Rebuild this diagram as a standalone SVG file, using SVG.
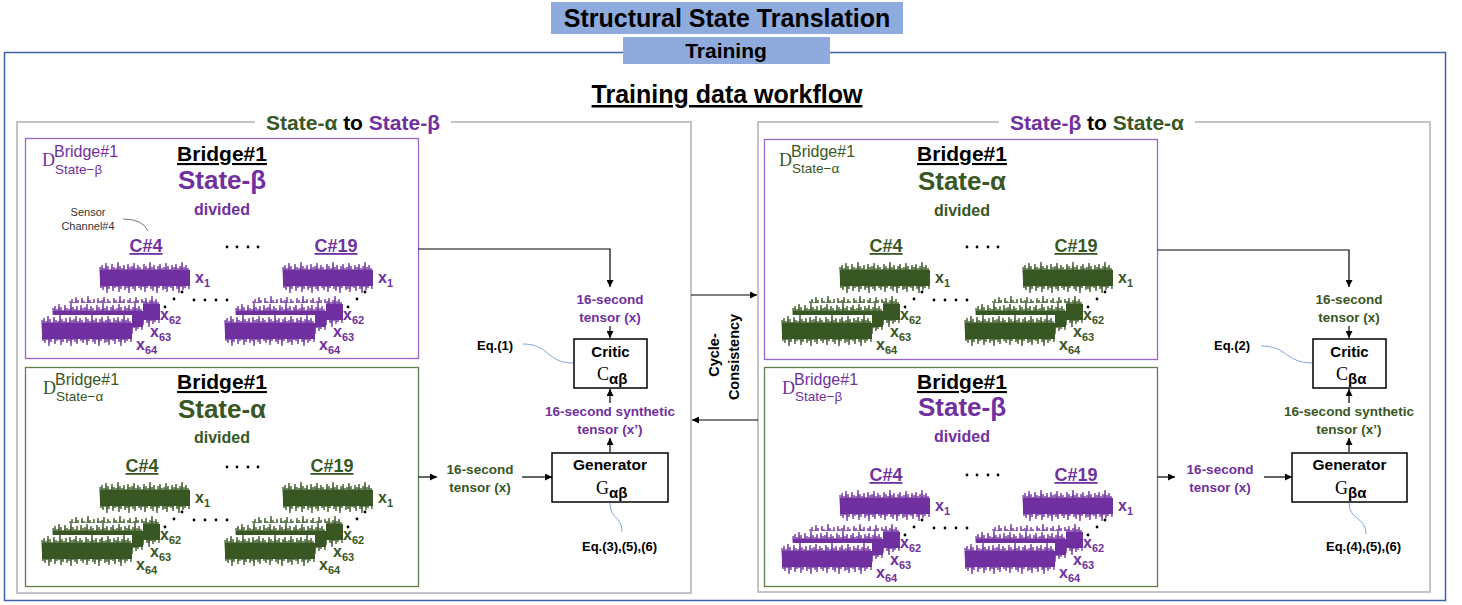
<svg xmlns="http://www.w3.org/2000/svg" width="1462" height="605" viewBox="0 0 1462 605">
<style>
text{font-family:"Liberation Sans",Arial,sans-serif}
.b{font-weight:bold}
.m{text-anchor:middle}
.p{fill:#7030A0}
.g{fill:#385723}
.k{fill:#000}
.sv{font-family:"Liberation Serif","Times New Roman",serif;font-weight:normal}
.hdr{font-size:21px;font-weight:bold;text-decoration:underline}
.st{font-size:26px;font-weight:bold}
.dv{font-size:16px;font-weight:bold}
.ch{font-size:18px;font-weight:bold;text-decoration:underline}
.xl{font-size:16px;font-weight:bold}
.lbl{font-size:13.5px;font-weight:bold}
.eq{font-size:13px;font-weight:bold}
.box{fill:#fff;stroke:#000;stroke-width:1.5}
.pp{fill:#fff;stroke:#9966CC;stroke-width:1.3}
.gp{fill:#fff;stroke:#5E7F4A;stroke-width:1.3}
.grp{fill:#fff;stroke:#C4C4C4;stroke-width:2}
.con{fill:none;stroke:#000;stroke-width:1.2}
.blue{fill:none;stroke:#7FA6DA;stroke-width:1}
</style>
<defs>
<marker id="ah" markerWidth="7" markerHeight="7" refX="7" refY="3.5" orient="auto" markerUnits="userSpaceOnUse">
<path d="M0,0 L7,3.5 L0,7 z" fill="#000"/>
</marker>
<g id="wave">
<rect x="0" y="0" width="90" height="32" fill="#fff"/>
<rect x="0" y="8" width="90" height="16" fill="currentColor"/>
<polyline fill="none" stroke="currentColor" stroke-width="1.3" points="0,5 1,26 2,3 3,28 4,6 5,25 6,1 7,31 8,4 9,27 10,7 11,24 12,2 13,29 14,5 15,26 16,6 17,25 18,0 19,30 20,4 21,27 22,6 23,24 24,3 25,28 26,7 27,26 28,2 29,31 30,5 31,25 32,4 33,27 34,1 35,29 36,6 37,24 38,3 39,26 40,5 41,28 42,7 43,25 44,2 45,30 46,4 47,26 48,6 49,24 50,0 51,27 52,5 53,29 54,3 55,25 56,7 57,31 58,4 59,26 60,2 61,24 62,6 63,28 64,5 65,27 66,1 67,30 68,4 69,25 70,7 71,26 72,3 73,29 74,5 75,24 76,2 77,27 78,6 79,31 80,4 81,25 82,0 83,28 84,5 85,26 86,3 87,24 88,6 89,27"/>
</g>
<g id="chan">
<use href="#wave" x="-30" y="34"/>
<use href="#wave" x="-47" y="41"/>
<use href="#wave" x="-58" y="53"/>
<use href="#wave" x="0" y="0"/>
<circle cx="82" cy="30" r="1.4" fill="#000"/>
<circle cx="74" cy="37" r="1.4" fill="#000"/>
<circle cx="65" cy="45" r="1.4" fill="#000"/>
</g>
<g id="hdots">
<circle cx="194" cy="300" r="1.4"/><circle cx="205" cy="300" r="1.4"/><circle cx="216" cy="300" r="1.4"/><circle cx="227" cy="300" r="1.4"/>
<circle cx="227" cy="247" r="1.4"/><circle cx="237" cy="247" r="1.4"/><circle cx="248" cy="247" r="1.4"/><circle cx="258" cy="247" r="1.4"/>
</g>
</defs>

<rect width="1462" height="605" fill="#fff"/>

<g id="frame">
<rect x="4.5" y="52.5" width="1441" height="548" fill="none" stroke="#3D62A8" stroke-width="1.5"/>
</g>
<g id="title">
<rect x="551" y="2" width="352" height="32" fill="#8FAADC"/>
<text x="727" y="27" class="b m" font-size="25">Structural State Translation</text>
</g>
<g id="training">
<rect x="623" y="37" width="207" height="27" fill="#8FAADC"/>
<text x="726" y="58" class="b m" font-size="21">Training</text>
</g>
<g id="workflow-title">
<text x="727" y="103" class="b m" font-size="25" text-decoration="underline">Training data workflow</text>
</g>

<g id="group-left">
<rect class="grp" x="17" y="122" width="674" height="471"/>
<rect x="255" y="112" width="196" height="22" fill="#fff"/>
<text x="353" y="130" class="b m" font-size="21"><tspan class="g">State-α</tspan> to <tspan class="p">State-β</tspan></text>
</g>
<g id="group-right">
<rect class="grp" x="758" y="122" width="672" height="470"/>
<rect x="999" y="112" width="196" height="22" fill="#fff"/>
<text x="1097" y="130" class="b m" font-size="21"><tspan class="p">State-β</tspan> to <tspan class="g">State-α</tspan></text>
</g>

<!-- Left top panel: State-beta -->
<g id="panel-lt">
<rect class="pp" x="25.5" y="138.5" width="393" height="220"/>
<text x="42" y="166" class="p"><tspan class="sv" font-size="18">D</tspan></text>
<text x="54" y="157" class="p" font-size="16">Bridge#1</text>
<text x="55" y="174" class="p" font-size="13.5">State−β</text>
<text x="222" y="161" class="hdr m">Bridge#1</text>
<text x="222" y="189" class="st m p">State-β</text>
<text x="222" y="215" class="dv m p">divided</text>
<text x="88" y="216" class="m" font-size="11" fill="#333">Sensor</text>
<text x="88" y="230" class="m" font-size="11" fill="#333">Channel#4</text>
<path d="M123,219 Q143,219 148,231" fill="none" stroke="#555" stroke-width="0.8"/>
<text x="146" y="252" class="ch m p">C#4</text>
<text x="336" y="252" class="ch m p">C#19</text>
<use href="#chan" x="100" y="262" color="#7030A0"/>
<use href="#chan" x="283" y="262" color="#7030A0"/>
<use href="#hdots" fill="#000"/>
<text x="195" y="283" class="xl p">x<tspan font-size="11" dy="4">1</tspan></text>
<text x="160" y="320" class="xl p">x<tspan font-size="11" dy="4">62</tspan></text>
<text x="150" y="337" class="xl p">x<tspan font-size="11" dy="4">63</tspan></text>
<text x="136" y="350" class="xl p">x<tspan font-size="11" dy="4">64</tspan></text>
<text x="378" y="283" class="xl p">x<tspan font-size="11" dy="4">1</tspan></text>
<text x="343" y="320" class="xl p">x<tspan font-size="11" dy="4">62</tspan></text>
<text x="333" y="337" class="xl p">x<tspan font-size="11" dy="4">63</tspan></text>
<text x="319" y="350" class="xl p">x<tspan font-size="11" dy="4">64</tspan></text>
</g>

<!-- Left bottom panel: State-alpha -->
<g id="panel-lb">
<rect class="gp" x="25.5" y="367.5" width="393" height="219"/>
<text x="43" y="394" class="g"><tspan class="sv" font-size="18">D</tspan></text>
<text x="55" y="385" class="g" font-size="16">Bridge#1</text>
<text x="56" y="401" class="g" font-size="13.5">State−α</text>
<text x="222" y="389" class="hdr m">Bridge#1</text>
<text x="222" y="418" class="st m g">State-α</text>
<text x="222" y="443" class="dv m g">divided</text>
<text x="142" y="472" class="ch m g">C#4</text>
<text x="332" y="472" class="ch m g">C#19</text>
<use href="#chan" x="100" y="482" color="#385723"/>
<use href="#chan" x="283" y="482" color="#385723"/>
<use href="#hdots" y="220" fill="#000"/>
<text x="195" y="503" class="xl g">x<tspan font-size="11" dy="4">1</tspan></text>
<text x="160" y="540" class="xl g">x<tspan font-size="11" dy="4">62</tspan></text>
<text x="150" y="557" class="xl g">x<tspan font-size="11" dy="4">63</tspan></text>
<text x="136" y="570" class="xl g">x<tspan font-size="11" dy="4">64</tspan></text>
<text x="378" y="503" class="xl g">x<tspan font-size="11" dy="4">1</tspan></text>
<text x="343" y="540" class="xl g">x<tspan font-size="11" dy="4">62</tspan></text>
<text x="333" y="557" class="xl g">x<tspan font-size="11" dy="4">63</tspan></text>
<text x="319" y="570" class="xl g">x<tspan font-size="11" dy="4">64</tspan></text>
</g>

<!-- Right top panel: State-alpha -->
<g id="panel-rt">
<rect class="pp" x="764.5" y="139.5" width="393" height="220"/>
<text x="779" y="166" class="g"><tspan class="sv" font-size="18">D</tspan></text>
<text x="791" y="157" class="g" font-size="16">Bridge#1</text>
<text x="792" y="173" class="g" font-size="13.5">State−α</text>
<text x="962" y="161" class="hdr m">Bridge#1</text>
<text x="962" y="190" class="st m g">State-α</text>
<text x="962" y="216" class="dv m g">divided</text>
<text x="886" y="252" class="ch m g">C#4</text>
<text x="1076" y="252" class="ch m g">C#19</text>
<use href="#chan" x="840" y="262" color="#385723"/>
<use href="#chan" x="1023" y="262" color="#385723"/>
<use href="#hdots" x="740" fill="#000"/>
<text x="935" y="283" class="xl g">x<tspan font-size="11" dy="4">1</tspan></text>
<text x="900" y="320" class="xl g">x<tspan font-size="11" dy="4">62</tspan></text>
<text x="890" y="337" class="xl g">x<tspan font-size="11" dy="4">63</tspan></text>
<text x="876" y="350" class="xl g">x<tspan font-size="11" dy="4">64</tspan></text>
<text x="1118" y="283" class="xl g">x<tspan font-size="11" dy="4">1</tspan></text>
<text x="1083" y="320" class="xl g">x<tspan font-size="11" dy="4">62</tspan></text>
<text x="1073" y="337" class="xl g">x<tspan font-size="11" dy="4">63</tspan></text>
<text x="1059" y="350" class="xl g">x<tspan font-size="11" dy="4">64</tspan></text>
</g>

<!-- Right bottom panel: State-beta -->
<g id="panel-rb">
<rect class="gp" x="764.5" y="367.5" width="393" height="219"/>
<text x="782" y="394" class="p"><tspan class="sv" font-size="18">D</tspan></text>
<text x="794" y="385" class="p" font-size="16">Bridge#1</text>
<text x="795" y="401" class="p" font-size="13.5">State−β</text>
<text x="962" y="389" class="hdr m">Bridge#1</text>
<text x="962" y="416" class="st m p">State-β</text>
<text x="962" y="442" class="dv m p">divided</text>
<text x="886" y="481" class="ch m p">C#4</text>
<text x="1076" y="481" class="ch m p">C#19</text>
<use href="#chan" x="840" y="490" color="#7030A0"/>
<use href="#chan" x="1023" y="490" color="#7030A0"/>
<use href="#hdots" x="740" y="228" fill="#000"/>
<text x="935" y="511" class="xl p">x<tspan font-size="11" dy="4">1</tspan></text>
<text x="900" y="548" class="xl p">x<tspan font-size="11" dy="4">62</tspan></text>
<text x="890" y="565" class="xl p">x<tspan font-size="11" dy="4">63</tspan></text>
<text x="876" y="578" class="xl p">x<tspan font-size="11" dy="4">64</tspan></text>
<text x="1118" y="511" class="xl p">x<tspan font-size="11" dy="4">1</tspan></text>
<text x="1083" y="548" class="xl p">x<tspan font-size="11" dy="4">62</tspan></text>
<text x="1073" y="565" class="xl p">x<tspan font-size="11" dy="4">63</tspan></text>
<text x="1059" y="578" class="xl p">x<tspan font-size="11" dy="4">64</tspan></text>
</g>

<!-- Connectors -->
<g id="connectors">
<path class="con" d="M418.5,249 H610 V287" marker-end="url(#ah)"/>
<path class="con" d="M610,326 V338" marker-end="url(#ah)"/>
<path class="con" d="M610,452 V438" marker-end="url(#ah)"/>
<path class="con" d="M610,403 V389" marker-end="url(#ah)"/>
<path class="con" d="M418.5,477 H437" marker-end="url(#ah)"/>
<path class="con" d="M522,477 H552" marker-end="url(#ah)"/>
<path class="con" d="M691,295 H757" marker-end="url(#ah)"/>
<path class="con" d="M758,420 H692" marker-end="url(#ah)"/>
<path class="con" d="M1157.5,250 H1349 V287" marker-end="url(#ah)"/>
<path class="con" d="M1349,326 V338" marker-end="url(#ah)"/>
<path class="con" d="M1349,452 V438" marker-end="url(#ah)"/>
<path class="con" d="M1349,403 V389" marker-end="url(#ah)"/>
<path class="con" d="M1157.5,477 H1175" marker-end="url(#ah)"/>
<path class="con" d="M1264,477 H1292" marker-end="url(#ah)"/>
<path class="blue" d="M523,344 C550,344 546,363 573,363"/>
<path class="blue" d="M610,503 C610,520 622,515 622,532"/>
<path class="blue" d="M1261,346 C1288,346 1285,363 1313,363"/>
<path class="blue" d="M1349,503 C1349,520 1366,517 1366,534"/>
</g>

<g id="labels-left">
<text x="610" y="304" class="lbl m p">16-second</text>
<text x="610" y="322" class="lbl m p">tensor (x)</text>
<text x="610" y="416" class="lbl m p">16-second synthetic</text>
<text x="610" y="434" class="lbl m p">tensor (x’)</text>
<text x="480" y="474" class="lbl m g">16-second</text>
<text x="480" y="492" class="lbl m g">tensor (x)</text>
<text x="477" y="350" class="eq">Eq.(1)</text>
<text x="582" y="551" class="eq">Eq.(3),(5),(6)</text>
</g>
<g id="labels-right">
<text x="1349" y="304" class="lbl m g">16-second</text>
<text x="1349" y="322" class="lbl m g">tensor (x)</text>
<text x="1349" y="416" class="lbl m g">16-second synthetic</text>
<text x="1349" y="434" class="lbl m g">tensor (x’)</text>
<text x="1220" y="474" class="lbl m p">16-second</text>
<text x="1220" y="492" class="lbl m p">tensor (x)</text>
<text x="1214" y="350" class="eq">Eq.(2)</text>
<text x="1326" y="551" class="eq">Eq.(4),(5),(6)</text>
</g>

<g id="cycle-consistency">
<text transform="translate(719,355) rotate(-90)" class="b m" font-size="14.5">Cycle-</text>
<text transform="translate(739,357) rotate(-90)" class="b m" font-size="14.5">Consistency</text>
</g>

<g id="critic-ab">
<rect class="box" x="574" y="339" width="73" height="49"/>
<text x="610.5" y="357" class="b m" font-size="15">Critic</text>
<text x="597" y="380"><tspan class="sv" font-size="18">C</tspan><tspan class="b" font-size="15" dy="4">αβ</tspan></text>
</g>
<g id="generator-ab">
<rect class="box" x="552" y="453" width="116" height="49"/>
<text x="610" y="470" class="b m" font-size="15.5">Generator</text>
<text x="596" y="494"><tspan class="sv" font-size="18">G</tspan><tspan class="b" font-size="15" dy="4">αβ</tspan></text>
</g>
<g id="critic-ba">
<rect class="box" x="1313" y="339" width="73" height="49"/>
<text x="1349.5" y="357" class="b m" font-size="15">Critic</text>
<text x="1336" y="380"><tspan class="sv" font-size="18">C</tspan><tspan class="b" font-size="15" dy="4">βα</tspan></text>
</g>
<g id="generator-ba">
<rect class="box" x="1292" y="453" width="115" height="49"/>
<text x="1349.5" y="470" class="b m" font-size="15.5">Generator</text>
<text x="1335" y="494"><tspan class="sv" font-size="18">G</tspan><tspan class="b" font-size="15" dy="4">βα</tspan></text>
</g>
</svg>
